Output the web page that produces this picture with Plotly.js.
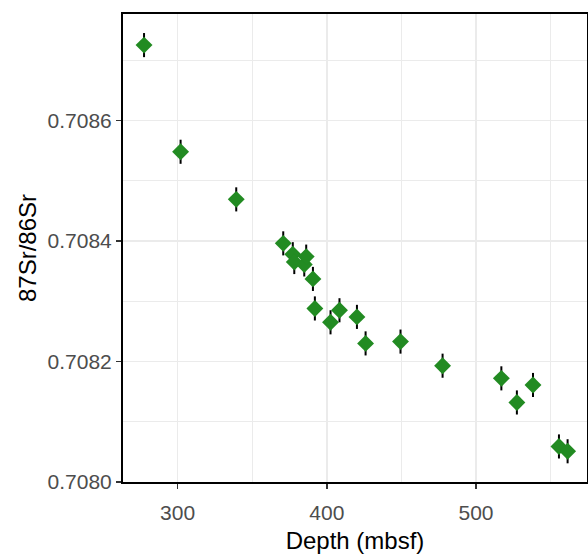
<!DOCTYPE html>
<html>
<head>
<meta charset="utf-8">
<script src="https://cdn.plot.ly/plotly-3.0.1.min.js"></script>
<style>html,body{margin:0;padding:0;background:#fff;}#chart{width:588px;height:554px;}</style>
</head>
<body>
<div id="chart"></div>
<script>
const depth = [277.5, 302.0, 339.3, 370.8, 377.2, 378.2, 384.9, 386.2, 390.7, 392.0, 402.5, 408.5, 420.2, 426.0, 449.4, 477.6, 517.0, 527.4, 538.2, 555.6, 561.4];
const srRatio = [0.708725, 0.708548, 0.708469, 0.708396, 0.708378, 0.708365, 0.708361, 0.708374, 0.708337, 0.708288, 0.708265, 0.708285, 0.708274, 0.708230, 0.708233, 0.708193, 0.708172, 0.708132, 0.708161, 0.708059, 0.708051];
const srError = [0.00002, 0.00002, 0.00002, 0.00002, 0.00002, 0.00002, 0.00002, 0.00002, 0.00002, 0.00002, 0.00002, 0.00002, 0.00002, 0.00002, 0.00002, 0.00002, 0.00002, 0.00002, 0.00002, 0.00002, 0.00002];
const yTickVals = [0.7080, 0.7082, 0.7084, 0.7086];
const yTickText = ["0.7080", "0.7082", "0.7084", "0.7086"];
const xTickVals = [300, 400, 500];
const xTickText = ["300", "400", "500"];

const trace = {
  x: depth, y: srRatio, type: 'scatter', mode: 'markers',
  marker: {symbol: 'diamond', size: 13, color: '#228B22'},
  error_y: {type: 'data', array: srError, visible: true, color: '#000000', thickness: 2, width: 0},
  hoverinfo: 'x+y'
};

const font = "'Liberation Sans', Arial, sans-serif";
const layout = {
  width: 588, height: 554,
  margin: {l: 123, r: 1, t: 14, b: 71.5, pad: 0},
  paper_bgcolor: '#ffffff', plot_bgcolor: '#ffffff',
  showlegend: false,
  font: {family: font},
  xaxis: {
    range: [263.4, 574.4], tickvals: xTickVals, ticktext: xTickText,
    ticks: 'outside', ticklen: 5, tickwidth: 1.5, tickcolor: '#333333',
    ticklabelstandoff: 6,
    tickfont: {family: font, size: 21, color: '#4D4D4D'},
    showgrid: true, gridcolor: '#EBEBEB', gridwidth: 1.6,
    minor: {dtick: 50, tick0: 250, showgrid: true, gridcolor: '#EBEBEB', gridwidth: 1.3, ticks: ''},
    showline: true, linecolor: '#000000', linewidth: 2, mirror: true,
    zeroline: false,
    title: {text: 'Depth (mbsf)', font: {family: font, size: 24, color: '#000000'}, standoff: 14}
  },
  yaxis: {
    range: [0.7080, 0.7087766], tickvals: yTickVals, ticktext: yTickText,
    ticks: 'outside', ticklen: 5, tickwidth: 1.5, tickcolor: '#333333',
    tickfont: {family: font, size: 21, color: '#4D4D4D'},
    showgrid: true, gridcolor: '#EBEBEB', gridwidth: 1.6,
    minor: {dtick: 0.0001, tick0: 0.7079, showgrid: true, gridcolor: '#EBEBEB', gridwidth: 1.3, ticks: ''},
    showline: true, linecolor: '#000000', linewidth: 2, mirror: true,
    zeroline: false,
    title: {text: '87Sr/86Sr', font: {family: font, size: 24, color: '#000000'}, standoff: 4}
  }
};

Plotly.newPlot('chart', [trace], layout, {displayModeBar: false, staticPlot: true});
</script>
</body>
</html>
